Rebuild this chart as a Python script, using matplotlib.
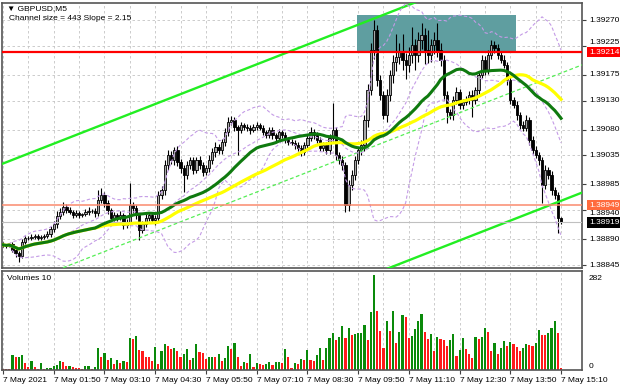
import numpy as np
import pandas as pd
import matplotlib.pyplot as plt
from matplotlib.patches import Rectangle
from matplotlib.transforms import blended_transform_factory, offset_copy

plt.rcParams['font.family'] = ['Liberation Sans', 'DejaVu Sans']

# GBPUSD M5, 7 May 2021 00:30 - 15:10 (prices in points above BASE)
BASE = 1.38800
close_pts = [
    80, 78, 81, 71, 66, 61, 85, 92, 92, 94,
    95, 92, 94, 95, 99, 107, 116, 130, 137, 146,
    140, 137, 132, 135, 132, 133, 137, 139, 139, 135,
    158, 166, 153, 140, 127, 132, 127, 132, 114, 120,
    149, 144, 132, 106, 116, 127, 132, 123, 127, 166,
    175, 218, 236, 227, 244, 224, 213, 201, 218, 227,
    210, 227, 218, 206, 213, 227, 241, 250, 244, 258,
    276, 293, 297, 284, 279, 288, 284, 283, 279, 284,
    288, 283, 276, 270, 279, 270, 265, 276, 270, 262,
    258, 257, 253, 248, 241, 253, 265, 276, 270, 262,
    248, 253, 244, 265, 279, 236, 227, 218, 149, 184,
    201, 227, 244, 253, 297, 349, 418, 453, 366, 340,
    305, 340, 375, 397, 406, 415, 401, 392, 409, 427,
    409, 435, 444, 418, 409, 427, 435, 418, 401, 340,
    310, 305, 331, 345, 323, 328, 331, 340, 331, 349,
    375, 401, 383, 409, 427, 421, 409, 401, 392, 366,
    331, 323, 305, 288, 283, 297, 262, 244, 236, 227,
    184, 210, 201, 175, 166, 127, 119,
]
first_open_pts = 82
wick_up = [
    3, 2, 3, 4, 5, 3, 5, 4, 3, 4,
    3, 4, 3, 3, 5, 6, 5, 8, 7, 9,
    5, 6, 4, 5, 4, 3, 5, 6, 4, 5,
    17, 12, 6, 5, 4, 5, 4, 6, 4, 5,
    38, 6, 5, 4, 5, 6, 4, 5, 4, 8,
    7, 9, 8, 6, 6, 7, 5, 6, 8, 5,
    6, 5, 7, 5, 6, 8, 7, 9, 5, 6,
    7, 9, 6, 5, 4, 5, 4, 5, 4, 6,
    5, 4, 5, 4, 6, 5, 4, 5, 4, 5,
    4, 5, 4, 5, 6, 5, 7, 8, 5, 6,
    5, 6, 5, 8, 47, 6, 5, 7, 6, 9,
    8, 7, 6, 9, 8, 10, 12, 17, 9, 8,
    7, 10, 9, 12, 40, 15, 30, 12, 14, 30,
    10, 15, 20, 12, 35, 10, 14, 30, 12, 8,
    7, 6, 8, 9, 6, 5, 7, 6, 8, 5,
    7, 8, 6, 9, 8, 6, 7, 5, 8, 6,
    5, 6, 7, 5, 6, 8, 5, 6, 7, 5,
    6, 8, 5, 7, 6, 5, 2,
]
wick_dn = [
    3, 3, 2, 4, 7, 11, 4, 3, 4, 3,
    4, 3, 3, 4, 3, 5, 4, 6, 5, 6,
    5, 4, 6, 4, 5, 4, 3, 5, 4, 6,
    5, 6, 8, 7, 5, 6, 5, 4, 7, 5,
    6, 8, 7, 18, 6, 5, 6, 5, 9, 6,
    7, 8, 9, 6, 8, 7, 9, 29, 6, 7,
    8, 6, 7, 6, 5, 7, 6, 8, 6, 7,
    6, 8, 5, 6, 43, 5, 4, 5, 6, 4,
    5, 4, 6, 5, 4, 6, 5, 4, 5, 6,
    5, 4, 6, 5, 7, 5, 6, 5, 7, 6,
    6, 5, 7, 6, 8, 9, 7, 8, 12, 10,
    9, 8, 7, 8, 10, 12, 9, 15, 10, 8,
    7, 12, 10, 14, 16, 12, 18, 25, 12, 14,
    25, 12, 16, 25, 14, 12, 16, 12, 10, 8,
    19, 7, 8, 6, 7, 8, 6, 7, 29, 6,
    7, 6, 8, 7, 6, 8, 7, 6, 5, 8,
    7, 6, 8, 7, 6, 5, 8, 7, 6, 9,
    31, 8, 7, 9, 6, 27, 3,
]
volume = [
    4, 3, 3, 46, 38, 40, 46, 20, 10, 26,
    8, 2, 20, 4, 6, 7, 12, 16, 28, 24,
    12, 13, 8, 6, 6, 4, 12, 13, 4, 10,
    65, 40, 50, 30, 36, 18, 30, 20, 26, 23,
    94, 91, 101, 61, 58, 39, 38, 28, 68, 19,
    58, 76, 71, 63, 65, 58, 40, 48, 63, 30,
    35, 76, 55, 50, 33, 38, 40, 38, 48, 28,
    35, 73, 63, 81, 40, 11, 25, 20, 48, 8,
    22, 18, 15, 18, 24, 15, 23, 25, 21, 63,
    40, 5, 20, 17, 34, 31, 59, 29, 26, 45,
    67, 29, 67, 95, 110, 88, 97, 131, 95, 125,
    104, 108, 110, 111, 134, 88, 173, 282, 175, 116,
    67, 147, 116, 175, 80, 114, 165, 159, 95, 102,
    121, 146, 168, 114, 91, 108, 57, 97, 91, 89,
    71, 89, 106, 43, 59, 95, 64, 49, 37, 97,
    91, 97, 125, 114, 57, 79, 48, 67, 85, 71,
    82, 76, 69, 57, 67, 76, 74, 71, 80, 118,
    105, 103, 110, 126, 146, 110, 5,
]
time_labels = ["7 May 2021", "7 May 01:50", "7 May 03:10", "7 May 04:30",
               "7 May 05:50", "7 May 07:10", "7 May 08:30", "7 May 09:50",
               "7 May 11:10", "7 May 12:30", "7 May 13:50", "7 May 15:10"]
price_ticks = [1.39270, 1.39225, 1.39175, 1.39130, 1.39080,
               1.39035, 1.38985, 1.38940, 1.38890, 1.38845]

red_level = 1.39214
orange_level = 1.38949
bid_price = 1.38919
zone_bars = (111.7, 161.8)
zone_prices = (1.39214, 1.39279)
channel_upper_start = 1.39021   # upper channel line at first bar
channel_slope = 2.15            # points per bar
channel_size = 443              # points

# ---- derived series ----
close = BASE + np.array(close_pts) / 1e5
open_ = np.r_[BASE + first_open_pts / 1e5, close[:-1]]
high = np.maximum(open_, close) + np.array(wick_up) / 1e5
low = np.minimum(open_, close) - np.array(wick_dn) / 1e5
n = len(close)
x = np.arange(n)

cs = pd.Series(close)
ma_fast = cs.rolling(30, min_periods=1).mean()
ma_slow = cs.rolling(50, min_periods=1).mean()
bb_mid = cs.rolling(20, min_periods=1).mean()
bb_sd = cs.rolling(20, min_periods=1).std(ddof=0)
bb_up = bb_mid + 2 * bb_sd
bb_lo = bb_mid - 2 * bb_sd

fig = plt.figure(figsize=(6.2, 3.88), dpi=100)
ax = fig.add_axes([2 / 620, 120 / 388, 580 / 620, 265 / 388])
axv = fig.add_axes([2 / 620, 18 / 388, 580 / 620, 99 / 388])

xlim = (-0.3, 182.6)
grid_kw = dict(color='#c4c4c4', lw=0.6, dashes=(3, 3), zorder=0)

# ---- price panel ----
ax.set_xlim(*xlim)
ax.set_ylim(1.388398, 1.392995)
for gx in range(0, n, 8):
    ax.axvline(gx, **grid_kw)
for py in price_ticks:
    ax.axhline(py, **grid_kw)

ax.add_patch(Rectangle((zone_bars[0], zone_prices[0]), zone_bars[1] - zone_bars[0],
                       zone_prices[1] - zone_prices[0], facecolor='#5f9ea0',
                       edgecolor='none', zorder=1))

# candles
bull = close >= open_
ax.vlines(x, low, high, color='black', lw=0.8, zorder=2)
body_h = np.maximum(np.abs(close - open_), 0.4e-5)
ax.bar(x, body_h, bottom=np.minimum(open_, close), width=0.72,
       color=np.where(bull, '#a8a8a8', 'black'), edgecolor='black', lw=0.6, zorder=3)

# channel
cx = np.array([-2, 190])
upper = channel_upper_start + channel_slope * cx / 1e5
ax.plot(cx, upper, color='#22ee22', lw=1.7, zorder=4)
ax.plot(cx, upper - channel_size / 1e5, color='#22ee22', lw=1.7, zorder=4)
ax.plot(cx, upper - channel_size / 2e5, color='#55ee55', lw=0.9, dashes=(3, 2), zorder=4)

# indicators
for band in (bb_up, bb_mid, bb_lo):
    ax.plot(x, band, color='#c49be6', lw=0.8, dashes=(3, 2), zorder=5)
ax.plot(x, ma_slow, color='#ffff00', lw=2.3, zorder=6)
ax.plot(x, ma_fast, color='#0f7a0f', lw=2.2, zorder=6)

# levels
ax.axhline(bid_price, color='#c0c0c0', lw=0.8, zorder=4)
ax.axhline(orange_level, color='#fa8a6e', lw=1.1, zorder=7)
ax.axhline(red_level, color='#ff0000', lw=1.6, zorder=7)

# right price scale
ax.yaxis.tick_right()
ax.set_yticks(price_ticks)
ax.set_yticklabels([])
ax.tick_params(axis='y', length=3, color='#404040')
ax.tick_params(axis='x', bottom=False, labelbottom=False)

trans = blended_transform_factory(ax.transAxes, ax.transData)
nudge = {1.39225: 3, 1.38940: -3}
for p in price_ticks:
    t = offset_copy(trans, fig=fig, x=0, y=nudge.get(p, 0), units='dots')
    ax.text(1.012, p, f"{p:.5f}", transform=t, fontsize=6, va='center',
            ha='left', clip_on=False)
for lvl, col in ((red_level, '#ff0000'), (orange_level, '#ff6a3d'), (bid_price, 'black')):
    ax.text(1.012, lvl, f"{lvl:.5f}", transform=trans, fontsize=6, color='white',
            va='center', ha='left', zorder=10, clip_on=False,
            bbox=dict(boxstyle='square,pad=0.2', fc=col, ec='none'))

ax.text(0.008, 0.992, "▼ GBPUSD,M5", transform=ax.transAxes, fontsize=6,
        va='top', ha='left')
ax.text(0.012, 0.955, "Channel size = 443 Slope = 2.15", transform=ax.transAxes,
        fontsize=6, va='top', ha='left')

# ---- volume panel ----
vol = np.array(volume)
vcol = np.where(np.r_[False, vol[1:] > vol[:-1]], '#0a8a0a', '#ff1a1a')
axv.set_xlim(*xlim)
axv.set_ylim(0, 295)
for gx in range(0, n, 8):
    axv.axvline(gx, **grid_kw)
axv.bar(x, vol, width=0.68, color=vcol, zorder=2)
axv.set_yticks([])
vtrans = blended_transform_factory(axv.transAxes, axv.transData)
axv.text(1.012, 282, "282", transform=vtrans, fontsize=6, va='top', ha='left')
axv.text(1.012, 0, "0", transform=vtrans, fontsize=6, va='bottom', ha='left')
axv.text(0.008, 0.96, "Volumes 10", transform=axv.transAxes, fontsize=6,
         va='top', ha='left')

axv.set_xticks(range(0, n, 16))
axv.set_xticklabels(time_labels)
for lab in axv.get_xticklabels():
    lab.set_ha('left')
axv.tick_params(axis='x', labelsize=6, length=3, pad=2, color='#404040')

for a in (ax, axv):
    for sp in a.spines.values():
        sp.set_color('#555555')
        sp.set_linewidth(1.2)

fig.savefig("out.png", dpi=100)
